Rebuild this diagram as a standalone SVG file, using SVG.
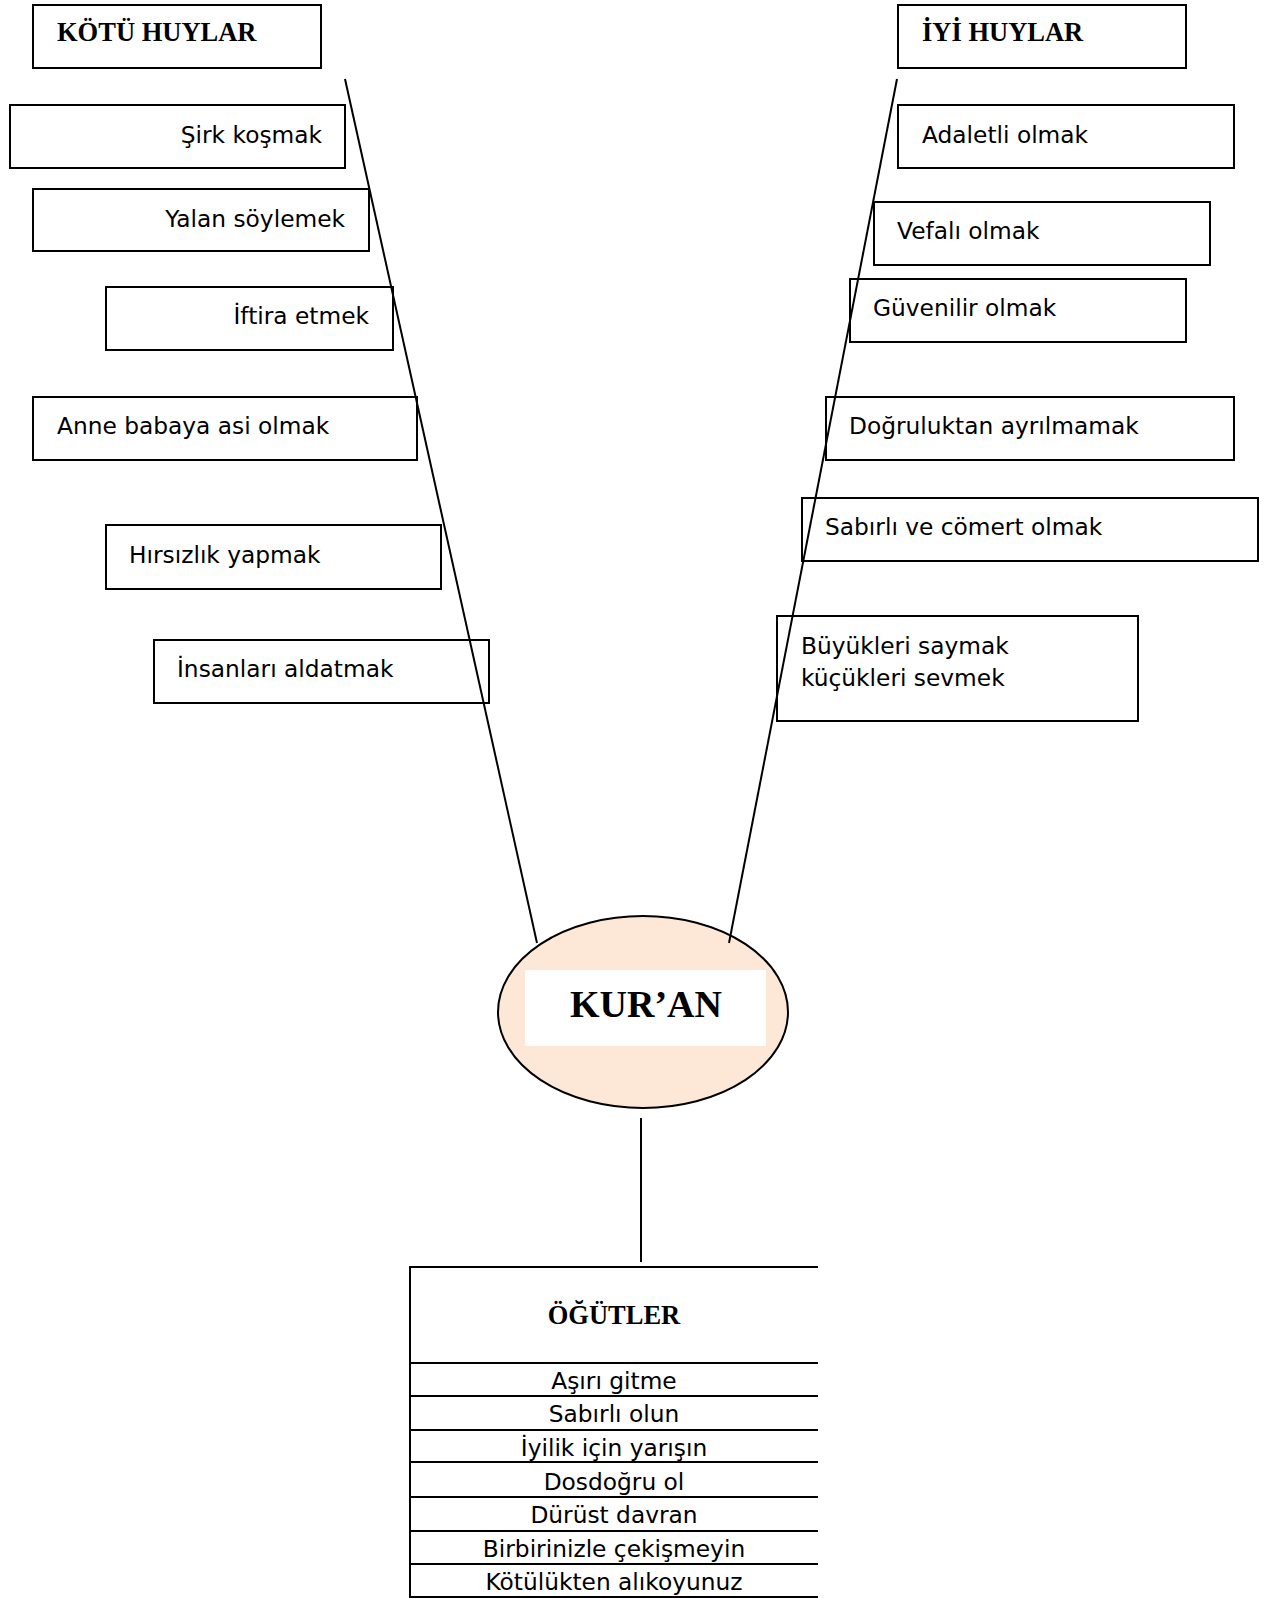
<svg xmlns="http://www.w3.org/2000/svg" width="1265" height="1598" viewBox="0 0 1265 1598">
<style>
.box{fill:#fff;stroke:#000;stroke-width:2}
.t{font-family:"DejaVu Sans","Liberation Sans",sans-serif;font-size:23.3px;fill:#000}
.h{font-family:"Liberation Serif","Times New Roman",serif;font-weight:bold;font-size:26.5px;fill:#000}
.ln{stroke:#000;stroke-width:2;fill:none}
</style>
<rect width="1265" height="1598" fill="#fff"/>
<g id="kotu-huylar"><rect class="box" x="33" y="5" width="288" height="63"/><text class="h" x="57" y="41">KÖTÜ HUYLAR</text></g>
<g id="sirk"><rect class="box" x="10" y="105" width="335" height="63"/><text class="t" x="322" y="143" text-anchor="end">Şirk koşmak</text></g>
<g id="yalan"><rect class="box" x="33" y="189" width="336" height="62"/><text class="t" x="345" y="227" text-anchor="end">Yalan söylemek</text></g>
<g id="iftira"><rect class="box" x="106" y="287" width="287" height="63"/><text class="t" x="369" y="324" text-anchor="end">İftira etmek</text></g>
<g id="anne"><rect class="box" x="33" y="397" width="384" height="63"/><text class="t" x="57" y="434">Anne babaya asi olmak</text></g>
<g id="hirsizlik"><rect class="box" x="106" y="525" width="335" height="64"/><text class="t" x="129" y="563">Hırsızlık yapmak</text></g>
<g id="insanlari"><rect class="box" x="154" y="640" width="335" height="63"/><text class="t" x="177" y="677">İnsanları aldatmak</text></g>
<g id="iyi-huylar"><rect class="box" x="898" y="5" width="288" height="63"/><text class="h" x="922" y="41">İYİ HUYLAR</text></g>
<g id="adaletli"><rect class="box" x="898" y="105" width="336" height="63"/><text class="t" x="922" y="143">Adaletli olmak</text></g>
<g id="vefali"><rect class="box" x="874" y="202" width="336" height="63"/><text class="t" x="897" y="239">Vefalı olmak</text></g>
<g id="guvenilir"><rect class="box" x="850" y="279" width="336" height="63"/><text class="t" x="873" y="316">Güvenilir olmak</text></g>
<g id="dogruluk"><rect class="box" x="826" y="397" width="408" height="63"/><text class="t" x="849" y="434">Doğruluktan ayrılmamak</text></g>
<g id="sabirli"><rect class="box" x="802" y="498" width="456" height="63"/><text class="t" x="825" y="535">Sabırlı ve cömert olmak</text></g>
<g id="buyukleri"><rect class="box" x="777" y="616" width="361" height="105"/><text class="t" x="801" y="654">Büyükleri saymak</text><text class="t" x="801" y="686">küçükleri sevmek</text></g>
<g id="kuran">
<ellipse cx="643" cy="1012" rx="145" ry="96" fill="#fde7d6" stroke="#000" stroke-width="2"/>
<rect x="525" y="970" width="241" height="76" fill="#fff"/>
<text x="646" y="1017" text-anchor="middle" font-family="Liberation Serif, Times New Roman, serif" font-weight="bold" font-size="38px">KUR’AN</text>
</g>
<g id="ogutler">
<path class="ln" d="M818 1267 H410 V1597 H818 M410 1363 H818 M410 1396 H818 M410 1430 H818 M410 1462 H818 M410 1497 H818 M410 1531 H818 M410 1564 H818"/>
<text class="h" x="614" y="1324" text-anchor="middle">ÖĞÜTLER</text>
<text class="t" x="614" y="1389" text-anchor="middle">Aşırı gitme</text>
<text class="t" x="614" y="1422" text-anchor="middle">Sabırlı olun</text>
<text class="t" x="614" y="1456" text-anchor="middle">İyilik için yarışın</text>
<text class="t" x="614" y="1490" text-anchor="middle">Dosdoğru ol</text>
<text class="t" x="614" y="1523" text-anchor="middle">Dürüst davran</text>
<text class="t" x="614" y="1557" text-anchor="middle">Birbirinizle çekişmeyin</text>
<text class="t" x="614" y="1590" text-anchor="middle">Kötülükten alıkoyunuz</text>
</g>
<g id="connectors">
<line class="ln" x1="345" y1="79" x2="537" y2="943"/>
<line class="ln" x1="897" y1="79" x2="729" y2="943"/>
<line class="ln" x1="641" y1="1118" x2="641" y2="1262"/>
</g>
</svg>
